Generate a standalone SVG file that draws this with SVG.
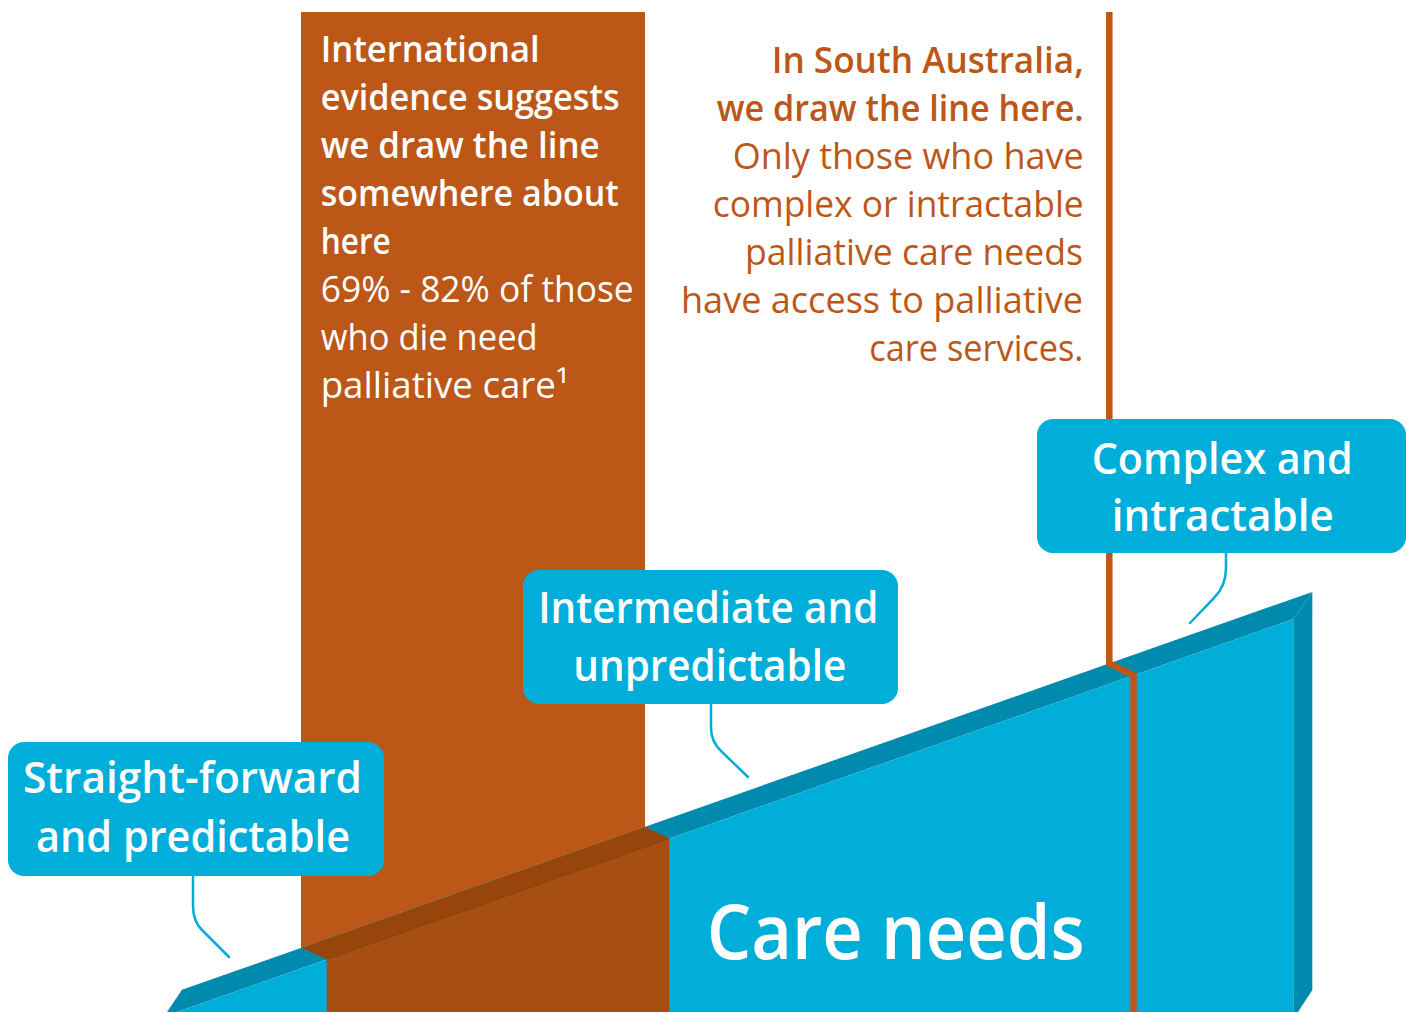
<svg xmlns="http://www.w3.org/2000/svg" width="1406" height="1012" viewBox="0 0 1406 1012">
<style>
.t{font-family:"Open Sans","Noto Sans","Liberation Sans",sans-serif;}
.b{font-weight:600;}
.r{font-weight:400;}
.w{fill:#ffffff;}
.o{fill:#BC5718;}
.box{fill:#00AED9;}
.tail{fill:none;stroke:#00AED9;stroke-width:2.5;stroke-linecap:round;}
</style>
<rect width="1406" height="1012" fill="#ffffff"/>
<g id="column">
<polygon points="301,12 645,12 645,826.8 301,948" fill="#BC5718"/>
</g>
<g id="ramp">
<polygon points="182,989.8 1312.3,591.9 1293.3,619 177,1012 167,1012" fill="#008AAD"/>
<polygon points="177,1012 1293.3,619 1293.3,1012" fill="#00AED9"/>
<polygon points="1293.3,619 1312.3,591.9 1312.3,990 1298,1012 1293.3,1012" fill="#008AAD"/>
<polygon points="301.7,947.7 645,826.8 669.3,838.6 326.7,959.3" fill="#97450B"/>
<polygon points="326.7,959.3 669.3,838.6 669.3,1012 326.7,1012" fill="#A74E12"/>
<line x1="326.7" y1="959.3" x2="669.3" y2="838.6" stroke="#8A4010" stroke-width="1"/>
<text class="t b w" x="706.7" y="959" font-size="76" textLength="378" lengthAdjust="spacingAndGlyphs">Care needs</text>
</g>
<g id="sa-line">
<polyline points="1109.3,12 1109.3,663.4 1133.5,675.3 1133.5,1012" fill="none" stroke="#BC5718" stroke-width="6.5"/>
</g>
<g id="international-text">
<text class="t b w" font-size="36" x="320.7" y="61.7" textLength="219" lengthAdjust="spacingAndGlyphs">International</text>
<text class="t b w" font-size="36" x="320.7" y="109.7" textLength="299" lengthAdjust="spacingAndGlyphs">evidence suggests</text>
<text class="t b w" font-size="36" x="320.7" y="157.7" textLength="279" lengthAdjust="spacingAndGlyphs">we draw the line</text>
<text class="t b w" font-size="36" x="320.7" y="205.7" textLength="298" lengthAdjust="spacingAndGlyphs">somewhere about</text>
<text class="t b w" font-size="36" x="320.7" y="253.7" textLength="70" lengthAdjust="spacingAndGlyphs">here</text>
<text class="t r w" font-size="36" x="320.7" y="301.7" textLength="313" lengthAdjust="spacingAndGlyphs">69% - 82% of those</text>
<text class="t r w" font-size="36" x="320.7" y="349.7" textLength="217" lengthAdjust="spacingAndGlyphs">who die need</text>
<text class="t r w" font-size="36" x="320.7" y="397.7" textLength="248" lengthAdjust="spacingAndGlyphs">palliative care¹</text>
</g>
<g id="sa-text">
<text class="t b o" font-size="36" x="771.7" y="73.3" textLength="312" lengthAdjust="spacingAndGlyphs">In South Australia,</text>
<text class="t b o" font-size="36" x="716.7" y="121.3" textLength="367" lengthAdjust="spacingAndGlyphs">we draw the line here.</text>
<text class="t r o" font-size="36" x="732.7" y="169.3" textLength="351" lengthAdjust="spacingAndGlyphs">Only those who have</text>
<text class="t r o" font-size="36" x="712.7" y="217.3" textLength="371" lengthAdjust="spacingAndGlyphs">complex or intractable</text>
<text class="t r o" font-size="36" x="745" y="265.3" textLength="338" lengthAdjust="spacingAndGlyphs">palliative care needs</text>
<text class="t r o" font-size="36" x="681" y="313.3" textLength="402" lengthAdjust="spacingAndGlyphs">have access to palliative</text>
<text class="t r o" font-size="36" x="869.3" y="361.3" textLength="214" lengthAdjust="spacingAndGlyphs">care services.</text>
</g>
<g id="connectors">
<path class="tail" d="M193,876 V906 Q193,922 203,931 L229,957"/>
<path class="tail" d="M711,704 V728 Q711,742 722,752 L748,777"/>
<path class="tail" d="M1226,553 V568 Q1226,586 1214,598 L1190,623"/>
</g>
<g id="straightforward">
<rect class="box" x="8" y="742" width="376" height="134" rx="16"/>
<text class="t b w" font-size="44" x="23" y="793" textLength="339" lengthAdjust="spacingAndGlyphs">Straight-forward</text>
<text class="t b w" font-size="44" x="36" y="852" textLength="314" lengthAdjust="spacingAndGlyphs">and predictable</text>
</g>
<g id="intermediate">
<rect class="box" x="523" y="570" width="375" height="134" rx="16"/>
<text class="t b w" font-size="44" x="538.3" y="623" textLength="340" lengthAdjust="spacingAndGlyphs">Intermediate and</text>
<text class="t b w" font-size="44" x="573.3" y="681" textLength="273" lengthAdjust="spacingAndGlyphs">unpredictable</text>
</g>
<g id="complex">
<rect class="box" x="1037" y="419" width="369" height="134" rx="16"/>
<text class="t b w" font-size="44" x="1091.7" y="473.5" textLength="261" lengthAdjust="spacingAndGlyphs">Complex and</text>
<text class="t b w" font-size="44" x="1111.7" y="531" textLength="222" lengthAdjust="spacingAndGlyphs">intractable</text>
</g>
</svg>
